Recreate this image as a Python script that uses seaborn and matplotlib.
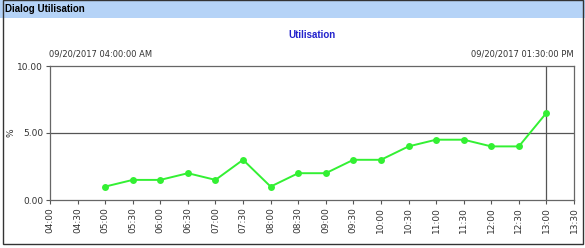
import matplotlib
matplotlib.use("Agg")
import matplotlib.pyplot as plt
import seaborn as sns
import pandas as pd
from matplotlib.patches import Rectangle

tick_labels = ["04:00", "04:30", "05:00", "05:30", "06:00", "06:30", "07:00", "07:30",
               "08:00", "08:30", "09:00", "09:30", "10:00", "10:30", "11:00", "11:30",
               "12:00", "12:30", "13:00", "13:30"]
times = ["05:00", "05:30", "06:00", "06:30", "07:00", "07:30", "08:00", "08:30",
         "09:00", "09:30", "10:00", "10:30", "11:00", "11:30", "12:00", "12:30", "13:00"]
util = [1.0, 1.5, 1.5, 2.0, 1.5, 3.0, 1.0, 2.0, 2.0, 3.0, 3.0, 4.0, 4.5, 4.5, 4.0, 4.0, 6.5]
y_ticks = [0, 5, 10]
y_tick_labels = ["0.00", "5.00", "10.00"]

sns.set_style("white")
plt.rcParams["font.family"] = ["DejaVu Sans"]

df = pd.DataFrame({"pos": [tick_labels.index(t) for t in times], "util": util})

W, H = 585, 248
fig = plt.figure(figsize=(W / 100, H / 100), dpi=100)

# title bar
fig.patches.append(Rectangle((0, 1 - 18 / H), 1, 18 / H, transform=fig.transFigure,
                             facecolor="#B5D3F7", edgecolor="none", zorder=0))
fig.patches.append(Rectangle((3 / W, 4 / H), 1 - 5 / W, 1 - 4 / H, transform=fig.transFigure,
                             facecolor="none", edgecolor="#333333", linewidth=1.0, zorder=5))
fig.text(5 / W, 1 - 9 / H, "Dialog Utilisation", fontsize=7, fontweight="bold",
         family=["Liberation Sans", "DejaVu Sans"], va="center", ha="left", color="black")

ax = fig.add_axes([50 / W, 1 - 200 / H, (574 - 50) / W, (200 - 66) / H])
sns.lineplot(data=df, x="pos", y="util", ax=ax, color="#33F033", linewidth=1.4,
             marker="o", markersize=5, markeredgewidth=0)

ax.set_xlim(0, len(tick_labels) - 1)
ax.set_ylim(0, 10)
ax.set_xticks(range(len(tick_labels)))
ax.set_xticklabels(tick_labels, rotation=90, fontsize=6.5, color="#333333")
ax.set_yticks(y_ticks)
ax.set_yticklabels(y_tick_labels, fontsize=6.5, color="#333333")
ax.tick_params(axis="both", direction="out", length=3, width=0.8, color="#555555", pad=2,
               bottom=True, left=True)
ax.axhline(5, color="#555555", linewidth=0.9, zorder=1)
ax.axvline(tick_labels.index("13:00"), color="#555555", linewidth=0.9, zorder=1)
for s in ax.spines.values():
    s.set_color("#666666")
    s.set_linewidth(0.9)
ax.set_xlabel("")
ax.set_ylabel("%", fontsize=6.5, color="#333333")
ax.yaxis.set_label_coords(-34 / 524, 0.5)

fig.text(312 / W, 1 - 35 / H, "Utilisation", fontsize=7, fontweight="bold",
         family=["Liberation Sans", "DejaVu Sans"],
         color="#2222CC", ha="center", va="center")
fig.text(49 / W, 1 - 54 / H, "09/20/2017 04:00:00 AM", fontsize=6.0, color="#333333",
         ha="left", va="center")
fig.text(574 / W, 1 - 54 / H, "09/20/2017 01:30:00 PM", fontsize=6.0, color="#333333",
         ha="right", va="center")

fig.savefig("out.png", dpi=100)
